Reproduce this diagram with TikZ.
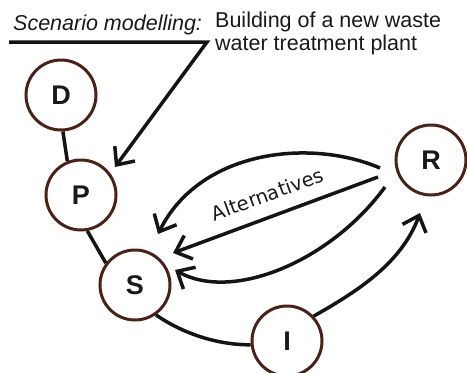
\documentclass[tikz,border=0pt]{standalone}
\usepackage{fontspec}
\setmainfont{Liberation Sans}
\newfontfamily\altfont{DejaVu Sans}
\usetikzlibrary{arrows.meta}
\definecolor{ringbrown}{HTML}{4A2218}
\begin{document}
\begin{tikzpicture}[x=1pt,y=-1pt,
  stage/.style={circle,draw=ringbrown,line width=3pt,minimum size=70pt,inner sep=0pt,
    font=\fontsize{27}{30}\selectfont\bfseries,text=black!90},
  link/.style={line width=3.5pt,black!92},
  arr/.style={link,-{Straight Barb[length=14pt,width=25pt,line width=3.5pt]}},
  txt/.style={inner sep=0pt,font=\fontsize{21.5}{24}\selectfont,text=black!90}]
\useasboundingbox (0,0) rectangle (467,373);
\clip (0,0) rectangle (467,373);
\node[stage] (D) at (61,95) {D};
\node[stage] (P) at (81,195) {P};
\node[stage] (S) at (135,285) {S};
\node[stage] (I) at (287,341) {I};
\node[stage] (R) at (431,160) {R};
% text
\node[txt,anchor=base west] (scen) at (13,30) {\itshape Scenario modelling:};
\node[txt,anchor=base west] (build1) at (215,27) {Building of a new waste};
\node[txt,anchor=base west] (build2) at (215,50) {water treatment plant};
% free ends
\coordinate (l0) at (9,42);
\coordinate (l1) at (207,42);
\coordinate (ptip) at (115,167);
\coordinate (a1) at (380,168);
\coordinate (a2) at (378,177);
\coordinate (a3) at (385,187);
\coordinate (t1) at (158,234);
\coordinate (t2) at (173,253);
\coordinate (t3) at (175,270);
% connectors
\draw[link] (D.-87) -- (P.112);
\draw[link] (P.-80) -- (S.143);
\draw[link] (S.-55) .. controls (185,335) and (220,345) .. (I.186);
\draw[arr] (I.43) .. controls (360,290) and (402,262) .. (420,213);
\draw[arr,line join=miter] (l0) -- (l1) -- (ptip);
\draw[arr] (a1) .. controls (310,138) and (200,150) .. (t1);
\draw[arr] (a2) -- (t2);
\draw[arr] (a3) .. controls (330,262) and (232,302) .. (t3);
\node[inner sep=0pt,rotate=20,anchor=base,font=\altfont\fontsize{19.5}{22}\selectfont,text=black!90] (alt) at (270,201) {Alternatives};
\end{tikzpicture}
\end{document}
